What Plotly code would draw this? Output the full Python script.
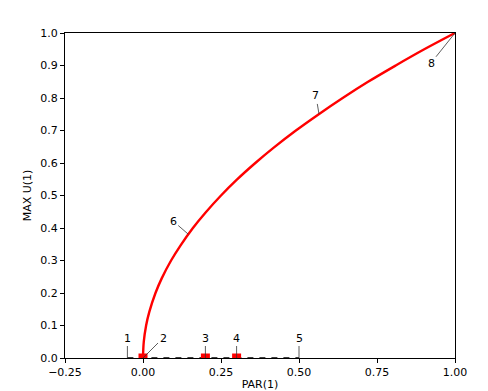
import plotly.graph_objects as go

# branch 2: periodic branch, max U(1) against PAR(1)
par_branch = [0.0, 0.0025, 0.01, 0.02, 0.04, 0.06, 0.09, 0.12, 0.16, 0.2, 0.25,
              0.3, 0.36, 0.42, 0.49, 0.56, 0.64, 0.72, 0.81, 0.9, 1.0]
umax_branch = [0.0, 0.05, 0.1, 0.141, 0.2, 0.245, 0.3, 0.346, 0.4, 0.447, 0.5,
               0.548, 0.6, 0.648, 0.7, 0.748, 0.8, 0.849, 0.9, 0.949, 1.0]

# trivial branch along U=0 (unstable, dashed)
par_trivial = [-0.05, 0.5]
umax_trivial = [0.0, 0.0]

# special points marked with red squares
par_special = [0.0, 0.2, 0.3]
umax_special = [0.0, 0.0, 0.0]

# labelled solution points
label_names = ["1", "2", "3", "4", "5", "6", "7", "8"]
label_par = [-0.05, 0.0, 0.2, 0.3, 0.5, 0.145, 0.564, 1.0]
label_umax = [0.0, 0.0, 0.0, 0.0, 0.0, 0.381, 0.751, 1.0]

x_ticks = [-0.25, 0.0, 0.25, 0.5, 0.75, 1.0]
y_ticks = [0.0, 0.1, 0.2, 0.3, 0.4, 0.5, 0.6, 0.7, 0.8, 0.9, 1.0]

FONT = "DejaVu Sans"

fig = go.Figure()

fig.add_trace(go.Scatter(x=par_trivial, y=umax_trivial, mode="lines",
                         line=dict(color="black", width=1.5, dash="6px,6px")))
fig.add_trace(go.Scatter(x=par_branch, y=umax_branch, mode="lines",
                         line=dict(color="red", width=2.4, shape="spline")))
fig.add_trace(go.Scatter(x=par_special, y=umax_special, mode="markers",
                         marker=dict(color="red", symbol="square", size=9)))

# pixel offsets of the label text from each point
offsets = [(0, -20), (20, -20), (0, -20), (0, -20), (0, -20),
           (-15, -13), (-3, -18), (-24, 30)]

for name, px_, py_, (ax, ay) in zip(label_names, label_par, label_umax, offsets):
    fig.add_annotation(x=px_, y=py_, text=name, showarrow=True, arrowhead=0,
                       arrowwidth=0.8, arrowcolor="#333333", ax=ax, ay=ay,
                       font=dict(family=FONT, size=11, color="black"))

fig.update_layout(
    width=488, height=391,
    margin=dict(l=65, r=33, t=33, b=33, autoexpand=False),
    paper_bgcolor="white", plot_bgcolor="white",
    showlegend=False,
    font=dict(family=FONT, size=11, color="black"),
)

fig.update_xaxes(range=[-0.25, 1.0], tickvals=x_ticks, tickformat=".2f",
                 ticks="outside", ticklen=4, tickcolor="black",
                 showline=True, linecolor="black", linewidth=1, mirror=True,
                 showgrid=False, zeroline=False, automargin=False,
                 title=dict(text="PAR(1)", standoff=4, font=dict(size=11)))
fig.update_yaxes(range=[0.0, 1.0], tickvals=y_ticks, tickformat=".1f",
                 ticks="outside", ticklen=4, tickcolor="black",
                 showline=True, linecolor="black", linewidth=1, mirror=True,
                 showgrid=False, zeroline=False, automargin=False,
                 title=dict(text="MAX U(1)", standoff=6, font=dict(size=11)))

# the default page has an 8px body margin; drop it so the figure fills the window
fig.write_html("out.html", config={"displayModeBar": False},
               post_script="document.body.style.margin='0';")
